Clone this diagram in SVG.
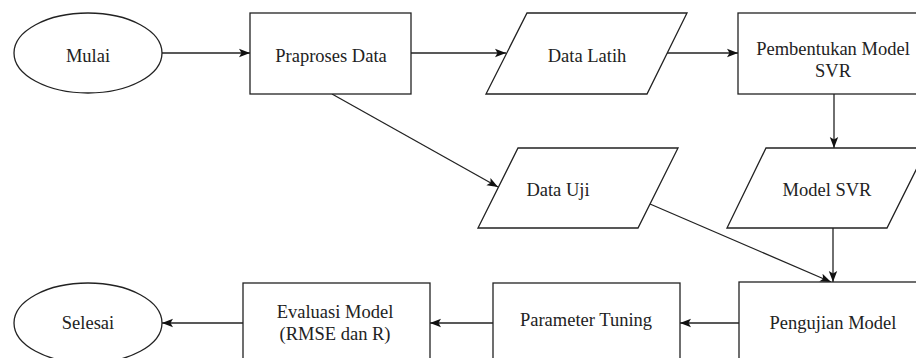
<svg xmlns="http://www.w3.org/2000/svg" width="916" height="358" viewBox="0 0 916 358">
<style>
.s{fill:#fff;stroke:#222;stroke-width:1.3}
.t{font-family:"Liberation Serif","Times New Roman",serif;font-size:18.5px;fill:#222;text-anchor:middle}
.c{fill:none;stroke:#222;stroke-width:1.3;marker-end:url(#ah)}
</style>
<defs>
<marker id="ah" markerUnits="userSpaceOnUse" markerWidth="12" markerHeight="10" refX="11" refY="5" orient="auto">
<path d="M0,0.8 L11,5 L0,9.2 L2.5,5 Z" fill="#111"/>
</marker>
</defs>
<rect width="916" height="358" fill="#fff"/>
<g id="connectors">
<path class="c" d="M162,53 H250"/>
<path class="c" d="M411,53 H506"/>
<path class="c" d="M667,53 H738"/>
<path class="c" d="M834,94 V148"/>
<path class="c" d="M332,94 L498,187"/>
<path class="c" d="M650,204 L831,282"/>
<path class="c" d="M833,228 V282"/>
<path class="c" d="M739,323 H680"/>
<path class="c" d="M493,323 H430"/>
<path class="c" d="M243,323 H162"/>
</g>
<g id="mulai">
<ellipse class="s" cx="88" cy="53" rx="74" ry="40"/>
<text class="t" x="88" y="62">Mulai</text>
</g>
<g id="praproses">
<rect class="s" x="250" y="13" width="161" height="81"/>
<text class="t" x="331" y="62">Praproses Data</text>
</g>
<g id="data-latih">
<polygon class="s" points="527,13 687,13 647,94 486,94"/>
<text class="t" x="587" y="62">Data Latih</text>
</g>
<g id="pembentukan">
<rect class="s" x="738" y="13" width="190" height="81"/>
<text class="t" x="833" y="55">Pembentukan Model</text>
<text class="t" x="833" y="77">SVR</text>
</g>
<g id="data-uji">
<polygon class="s" points="518,148 678,148 638,228 478,228"/>
<text class="t" x="558" y="196">Data Uji</text>
</g>
<g id="model-svr">
<polygon class="s" points="766,148 927,148 887,228 727,228"/>
<text class="t" x="827" y="196">Model SVR</text>
</g>
<g id="pengujian">
<rect class="s" x="739" y="282" width="190" height="81"/>
<text class="t" x="833" y="329">Pengujian Model</text>
</g>
<g id="parameter">
<rect class="s" x="493" y="283" width="187" height="81"/>
<text class="t" x="586" y="326">Parameter Tuning</text>
</g>
<g id="evaluasi">
<rect class="s" x="243" y="283" width="187" height="81"/>
<text class="t" x="335" y="318">Evaluasi Model</text>
<text class="t" x="335" y="340">(RMSE dan R)</text>
</g>
<g id="selesai">
<ellipse class="s" cx="88" cy="323" rx="74" ry="40"/>
<text class="t" x="88" y="329">Selesai</text>
</g>
</svg>
